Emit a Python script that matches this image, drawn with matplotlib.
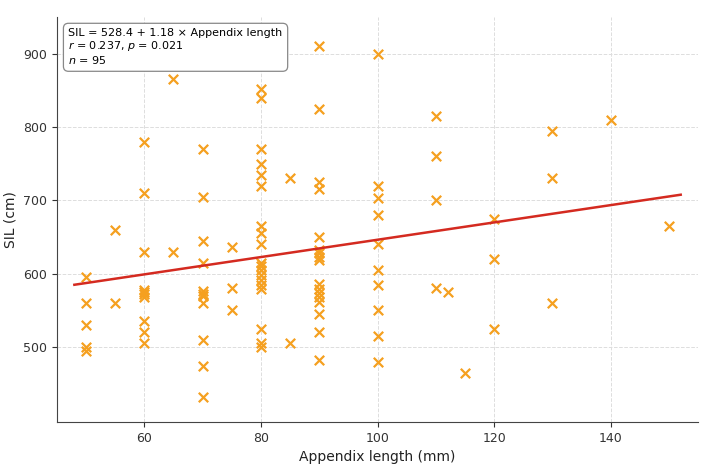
import numpy as np
import matplotlib
matplotlib.use("Agg")
from matplotlib import pyplot as plt

# appendix length (mm) and SIL (cm), read column by column
x50 = [595, 560, 530, 500, 495]
x55 = [660, 560]
x60 = [780, 710, 630, 578, 575, 572, 569, 535, 520, 505]
x65 = [865, 630]
x70 = [770, 705, 645, 615, 576, 573, 570, 560, 510, 475, 432]
x75 = [637, 580, 550]
x80 = [852, 840, 770, 750, 735, 720, 665, 655, 640, 615, 610, 605, 598,
       591, 585, 579, 525, 505, 500]
x85 = [730, 505]
x90 = [910, 825, 725, 715, 650, 632, 628, 623, 619, 586, 579, 574, 569,
       561, 545, 520, 482]
x100 = [900, 720, 703, 680, 640, 605, 585, 550, 515, 480]
x110 = [815, 760, 700, 580]
x112 = [575]
x115 = [465]
x120 = [675, 620, 525]
x130 = [795, 730, 560]
x140 = [810]
x150 = [665]

columns = {50: x50, 55: x55, 60: x60, 65: x65, 70: x70, 75: x75, 80: x80,
           85: x85, 90: x90, 100: x100, 110: x110, 112: x112, 115: x115,
           120: x120, 130: x130, 140: x140, 150: x150}

appendix = np.concatenate([[k] * len(v) for k, v in columns.items()])
sil = np.concatenate([v for v in columns.values()])

# fit reported on the chart
intercept = 528.4
slope = 1.18
r_val = 0.237
p_val = 0.021
n_val = 95

fig = plt.figure(figsize=(7.11, 4.71), dpi=100)
ax = fig.add_axes([0.080, 0.104, 0.902, 0.860])

ax.scatter(appendix, sil, marker='x', s=46, color='#f5a020', linewidths=1.6, zorder=3)

xs = np.array([appendix.min() - 2, appendix.max() + 2])
ax.plot(xs, intercept + slope * xs, color='#d42a20', linewidth=1.8, zorder=4)

ax.set_xlim(45, 155)
ax.set_ylim(398, 950)
ax.set_xticks([60, 80, 100, 120, 140])
ax.set_yticks([500, 600, 700, 800, 900])
ax.tick_params(labelsize=9, colors='#333333')
ax.set_xlabel('Appendix length (mm)', fontsize=10, color='#222222')
ax.set_ylabel('SIL (cm)', fontsize=10, color='#222222')

ax.grid(True, linestyle='--', color='#dddddd', linewidth=0.7)
ax.set_axisbelow(True)
ax.spines['top'].set_visible(False)
ax.spines['right'].set_visible(False)
ax.spines['left'].set_color('#444444')
ax.spines['bottom'].set_color('#444444')

label = (f'SIL = {intercept} + {slope} × Appendix length\n'
         f'$r$ = {r_val}, $p$ = {p_val}\n'
         f'$n$ = {n_val}')
ax.text(0.018, 0.972, label, transform=ax.transAxes, fontsize=8,
        va='top', ha='left', linespacing=1.1,
        bbox=dict(boxstyle='round,pad=0.45', facecolor='white',
                  edgecolor='#888888', linewidth=0.9))

fig.savefig('out.png', dpi=100)
